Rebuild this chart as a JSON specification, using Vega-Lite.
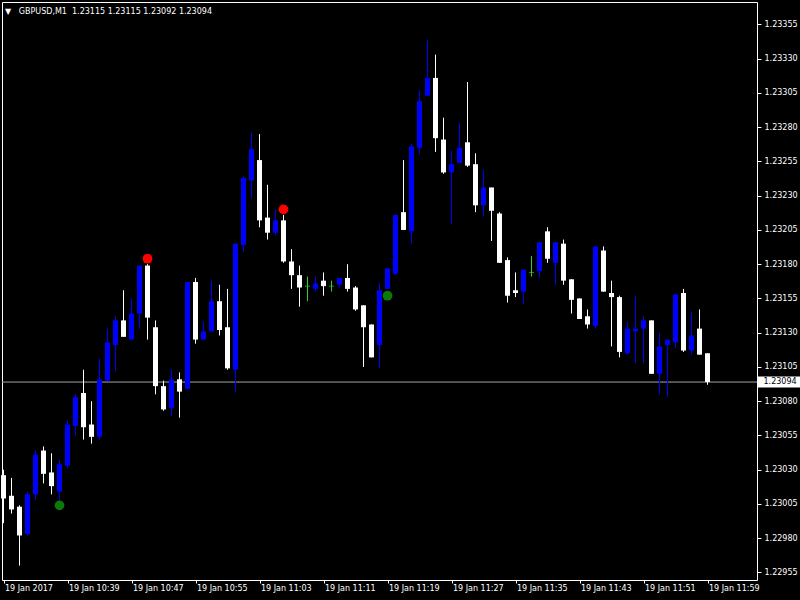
{
  "$schema": "https://vega.github.io/schema/vega-lite/v6.json",
  "width": 755,
  "height": 578,
  "autosize": {"type": "none"},
  "padding": {"left": 2, "top": 2, "right": 43, "bottom": 20},
  "background": "#000000",
  "config": {"view": {"stroke": "#ffffff", "strokeWidth": 1, "fill": "#000000"}, "font": "DejaVu Sans"},
  "title": {"text": "▼\u00a0\u00a0\u00a0GBPUSD,M1\u00a0\u00a01.23115\u00a01.23115\u00a01.23092\u00a01.23094", "anchor": "start", "frame": "group", "orient": "top", "baseline": "top", "offset": -4, "dx": 3, "dy": 10, "color": "#ffffff", "font": "DejaVu Sans", "fontSize": 8, "fontWeight": "normal"},
  "datasets": {
    "candles": [
      {"t": "2017-01-19T10:31:00", "o": 1.23026, "h": 1.23030, "l": 1.22991, "c": 1.23009},
      {"t": "2017-01-19T10:32:00", "o": 1.23011, "h": 1.23024, "l": 1.22998, "c": 1.23001},
      {"t": "2017-01-19T10:33:00", "o": 1.23003, "h": 1.23004, "l": 1.22960, "c": 1.22982},
      {"t": "2017-01-19T10:34:00", "o": 1.22983, "h": 1.23014, "l": 1.22982, "c": 1.23012},
      {"t": "2017-01-19T10:35:00", "o": 1.23012, "h": 1.23044, "l": 1.23008, "c": 1.23041},
      {"t": "2017-01-19T10:36:00", "o": 1.23044, "h": 1.23047, "l": 1.23020, "c": 1.23027},
      {"t": "2017-01-19T10:37:00", "o": 1.23028, "h": 1.23042, "l": 1.23012, "c": 1.23018},
      {"t": "2017-01-19T10:38:00", "o": 1.23014, "h": 1.23037, "l": 1.23008, "c": 1.23034},
      {"t": "2017-01-19T10:39:00", "o": 1.23033, "h": 1.23066, "l": 1.23031, "c": 1.23063},
      {"t": "2017-01-19T10:40:00", "o": 1.23062, "h": 1.23085, "l": 1.23055, "c": 1.23083},
      {"t": "2017-01-19T10:41:00", "o": 1.23086, "h": 1.23103, "l": 1.23052, "c": 1.23061},
      {"t": "2017-01-19T10:42:00", "o": 1.23063, "h": 1.23080, "l": 1.23049, "c": 1.23054},
      {"t": "2017-01-19T10:43:00", "o": 1.23054, "h": 1.23111, "l": 1.23052, "c": 1.23096},
      {"t": "2017-01-19T10:44:00", "o": 1.23095, "h": 1.23133, "l": 1.23095, "c": 1.23123},
      {"t": "2017-01-19T10:45:00", "o": 1.23121, "h": 1.23142, "l": 1.23102, "c": 1.23139},
      {"t": "2017-01-19T10:46:00", "o": 1.23139, "h": 1.23161, "l": 1.23127, "c": 1.23127},
      {"t": "2017-01-19T10:47:00", "o": 1.23125, "h": 1.23155, "l": 1.23125, "c": 1.23144},
      {"t": "2017-01-19T10:48:00", "o": 1.23144, "h": 1.23179, "l": 1.23133, "c": 1.23179},
      {"t": "2017-01-19T10:49:00", "o": 1.23179, "h": 1.23180, "l": 1.23125, "c": 1.23141},
      {"t": "2017-01-19T10:50:00", "o": 1.23134, "h": 1.23139, "l": 1.23085, "c": 1.23091},
      {"t": "2017-01-19T10:51:00", "o": 1.23091, "h": 1.23095, "l": 1.23073, "c": 1.23074},
      {"t": "2017-01-19T10:52:00", "o": 1.23075, "h": 1.23103, "l": 1.23069, "c": 1.23096},
      {"t": "2017-01-19T10:53:00", "o": 1.23096, "h": 1.23101, "l": 1.23068, "c": 1.23087},
      {"t": "2017-01-19T10:54:00", "o": 1.23089, "h": 1.23167, "l": 1.23089, "c": 1.23167},
      {"t": "2017-01-19T10:55:00", "o": 1.23167, "h": 1.23170, "l": 1.23122, "c": 1.23125},
      {"t": "2017-01-19T10:56:00", "o": 1.23125, "h": 1.23138, "l": 1.23125, "c": 1.23131},
      {"t": "2017-01-19T10:57:00", "o": 1.23131, "h": 1.23168, "l": 1.23131, "c": 1.23153},
      {"t": "2017-01-19T10:58:00", "o": 1.23153, "h": 1.23165, "l": 1.23128, "c": 1.23132},
      {"t": "2017-01-19T10:59:00", "o": 1.23134, "h": 1.23162, "l": 1.23103, "c": 1.23104},
      {"t": "2017-01-19T11:00:00", "o": 1.23103, "h": 1.23195, "l": 1.23087, "c": 1.23195},
      {"t": "2017-01-19T11:01:00", "o": 1.23194, "h": 1.23244, "l": 1.23189, "c": 1.23243},
      {"t": "2017-01-19T11:02:00", "o": 1.23241, "h": 1.23276, "l": 1.23228, "c": 1.23264},
      {"t": "2017-01-19T11:03:00", "o": 1.23256, "h": 1.23275, "l": 1.23207, "c": 1.23212},
      {"t": "2017-01-19T11:04:00", "o": 1.23214, "h": 1.23238, "l": 1.23198, "c": 1.23203},
      {"t": "2017-01-19T11:05:00", "o": 1.23203, "h": 1.23220, "l": 1.23201, "c": 1.23212},
      {"t": "2017-01-19T11:06:00", "o": 1.23212, "h": 1.23216, "l": 1.23181, "c": 1.23182},
      {"t": "2017-01-19T11:07:00", "o": 1.23182, "h": 1.23191, "l": 1.23162, "c": 1.23172},
      {"t": "2017-01-19T11:08:00", "o": 1.23172, "h": 1.23179, "l": 1.23149, "c": 1.23163},
      {"t": "2017-01-19T11:09:00", "o": 1.23164, "h": 1.23171, "l": 1.23153, "c": 1.23164},
      {"t": "2017-01-19T11:10:00", "o": 1.23162, "h": 1.23171, "l": 1.23160, "c": 1.23166},
      {"t": "2017-01-19T11:11:00", "o": 1.23168, "h": 1.23174, "l": 1.23157, "c": 1.23164},
      {"t": "2017-01-19T11:12:00", "o": 1.23164, "h": 1.23168, "l": 1.23160, "c": 1.23164},
      {"t": "2017-01-19T11:13:00", "o": 1.23165, "h": 1.23170, "l": 1.23163, "c": 1.23170},
      {"t": "2017-01-19T11:14:00", "o": 1.23170, "h": 1.23180, "l": 1.23160, "c": 1.23162},
      {"t": "2017-01-19T11:15:00", "o": 1.23163, "h": 1.23164, "l": 1.23146, "c": 1.23147},
      {"t": "2017-01-19T11:16:00", "o": 1.23150, "h": 1.23150, "l": 1.23105, "c": 1.23134},
      {"t": "2017-01-19T11:17:00", "o": 1.23136, "h": 1.23136, "l": 1.23112, "c": 1.23112},
      {"t": "2017-01-19T11:18:00", "o": 1.23121, "h": 1.23166, "l": 1.23104, "c": 1.23161},
      {"t": "2017-01-19T11:19:00", "o": 1.23162, "h": 1.23177, "l": 1.23162, "c": 1.23177},
      {"t": "2017-01-19T11:20:00", "o": 1.23173, "h": 1.23216, "l": 1.23172, "c": 1.23216},
      {"t": "2017-01-19T11:21:00", "o": 1.23218, "h": 1.23256, "l": 1.23205, "c": 1.23205},
      {"t": "2017-01-19T11:22:00", "o": 1.23204, "h": 1.23268, "l": 1.23195, "c": 1.23266},
      {"t": "2017-01-19T11:23:00", "o": 1.23265, "h": 1.23307, "l": 1.23260, "c": 1.23299},
      {"t": "2017-01-19T11:24:00", "o": 1.23303, "h": 1.23344, "l": 1.23303, "c": 1.23316},
      {"t": "2017-01-19T11:25:00", "o": 1.23316, "h": 1.23333, "l": 1.23262, "c": 1.23272},
      {"t": "2017-01-19T11:26:00", "o": 1.23271, "h": 1.23287, "l": 1.23246, "c": 1.23247},
      {"t": "2017-01-19T11:27:00", "o": 1.23247, "h": 1.23263, "l": 1.23209, "c": 1.23253},
      {"t": "2017-01-19T11:28:00", "o": 1.23254, "h": 1.23283, "l": 1.23254, "c": 1.23265},
      {"t": "2017-01-19T11:29:00", "o": 1.23269, "h": 1.23313, "l": 1.23251, "c": 1.23252},
      {"t": "2017-01-19T11:30:00", "o": 1.23253, "h": 1.23261, "l": 1.23218, "c": 1.23223},
      {"t": "2017-01-19T11:31:00", "o": 1.23223, "h": 1.23249, "l": 1.23215, "c": 1.23236},
      {"t": "2017-01-19T11:32:00", "o": 1.23236, "h": 1.23236, "l": 1.23197, "c": 1.23219},
      {"t": "2017-01-19T11:33:00", "o": 1.23217, "h": 1.23218, "l": 1.23181, "c": 1.23181},
      {"t": "2017-01-19T11:34:00", "o": 1.23183, "h": 1.23185, "l": 1.23152, "c": 1.23157},
      {"t": "2017-01-19T11:35:00", "o": 1.23161, "h": 1.23174, "l": 1.23156, "c": 1.23159},
      {"t": "2017-01-19T11:36:00", "o": 1.23160, "h": 1.23176, "l": 1.23151, "c": 1.23176},
      {"t": "2017-01-19T11:37:00", "o": 1.23174, "h": 1.23186, "l": 1.23171, "c": 1.23174},
      {"t": "2017-01-19T11:38:00", "o": 1.23175, "h": 1.23196, "l": 1.23170, "c": 1.23196},
      {"t": "2017-01-19T11:39:00", "o": 1.23204, "h": 1.23207, "l": 1.23181, "c": 1.23184},
      {"t": "2017-01-19T11:40:00", "o": 1.23181, "h": 1.23196, "l": 1.23165, "c": 1.23196},
      {"t": "2017-01-19T11:41:00", "o": 1.23195, "h": 1.23198, "l": 1.23165, "c": 1.23168},
      {"t": "2017-01-19T11:42:00", "o": 1.23169, "h": 1.23169, "l": 1.23144, "c": 1.23154},
      {"t": "2017-01-19T11:43:00", "o": 1.23155, "h": 1.23155, "l": 1.23140, "c": 1.23140},
      {"t": "2017-01-19T11:44:00", "o": 1.23142, "h": 1.23147, "l": 1.23133, "c": 1.23136},
      {"t": "2017-01-19T11:45:00", "o": 1.23135, "h": 1.23193, "l": 1.23133, "c": 1.23193},
      {"t": "2017-01-19T11:46:00", "o": 1.23190, "h": 1.23193, "l": 1.23160, "c": 1.23160},
      {"t": "2017-01-19T11:47:00", "o": 1.23159, "h": 1.23168, "l": 1.23120, "c": 1.23156},
      {"t": "2017-01-19T11:48:00", "o": 1.23156, "h": 1.23157, "l": 1.23112, "c": 1.23116},
      {"t": "2017-01-19T11:49:00", "o": 1.23115, "h": 1.23138, "l": 1.23114, "c": 1.23133},
      {"t": "2017-01-19T11:50:00", "o": 1.23131, "h": 1.23157, "l": 1.23108, "c": 1.23133},
      {"t": "2017-01-19T11:51:00", "o": 1.23133, "h": 1.23142, "l": 1.23108, "c": 1.23139},
      {"t": "2017-01-19T11:52:00", "o": 1.23139, "h": 1.23139, "l": 1.23100, "c": 1.23100},
      {"t": "2017-01-19T11:53:00", "o": 1.23100, "h": 1.23130, "l": 1.23085, "c": 1.23120},
      {"t": "2017-01-19T11:54:00", "o": 1.23121, "h": 1.23125, "l": 1.23083, "c": 1.23125},
      {"t": "2017-01-19T11:55:00", "o": 1.23123, "h": 1.23158, "l": 1.23119, "c": 1.23158},
      {"t": "2017-01-19T11:56:00", "o": 1.23159, "h": 1.23162, "l": 1.23116, "c": 1.23117},
      {"t": "2017-01-19T11:57:00", "o": 1.23117, "h": 1.23145, "l": 1.23114, "c": 1.23128},
      {"t": "2017-01-19T11:58:00", "o": 1.23133, "h": 1.23147, "l": 1.23114, "c": 1.23114},
      {"t": "2017-01-19T11:59:00", "o": 1.23115, "h": 1.23115, "l": 1.23092, "c": 1.23094}
    ],
    "signals": [
      {"t": "2017-01-19T10:38:00", "p": 1.23004, "kind": "buy"},
      {"t": "2017-01-19T10:49:00", "p": 1.23184, "kind": "sell"},
      {"t": "2017-01-19T11:06:00", "p": 1.23220, "kind": "sell"},
      {"t": "2017-01-19T11:19:00", "p": 1.23157, "kind": "buy"}
    ],
    "last": [{"p": 1.23094}]
  },
  "layer": [
    {
      "data": {"name": "last"},
      "mark": {"type": "rule", "color": "#a4a4a4", "strokeWidth": 1},
      "encoding": {
        "y": {"field": "p", "type": "quantitative", "title": null,
          "scale": {"domain": [1.229495, 1.233714], "nice": false, "zero": false, "padding": 0},
          "axis": {
            "orient": "right",
            "values": [1.22955, 1.2298, 1.23005, 1.2303, 1.23055, 1.2308, 1.23105, 1.2313, 1.23155, 1.2318, 1.23205, 1.2323, 1.23255, 1.2328, 1.23305, 1.2333, 1.23355],
            "tickCount": 40,
            "format": ".5f", "labelAlign": "left", "labelBaseline": "middle", "labelColor": "#ffffff", "labelFont": "DejaVu Sans", "labelFontSize": 8,
            "labelPadding": 3, "tickColor": "#ffffff", "tickSize": 4, "domain": false, "grid": false,
            "labelOverlap": false, "labelFlush": false, "labelBound": false
          }
        }
      }
    },
    {
      "data": {"name": "candles"},
      "mark": {"type": "rule", "strokeWidth": 1},
      "encoding": {
        "x": {"field": "t", "type": "temporal", "title": null,
          "scale": {"domain": [{"year": 2017, "month": 1, "date": 19, "hours": 10, "minutes": 30, "seconds": 48, "milliseconds": 750}, {"year": 2017, "month": 1, "date": 19, "hours": 12, "minutes": 5, "seconds": 11, "milliseconds": 250}], "nice": false, "padding": 0},
          "axis": {
            "values": [
              {"year": 2017, "month": 1, "date": 19, "hours": 10, "minutes": 31},
              {"year": 2017, "month": 1, "date": 19, "hours": 10, "minutes": 39},
              {"year": 2017, "month": 1, "date": 19, "hours": 10, "minutes": 47},
              {"year": 2017, "month": 1, "date": 19, "hours": 10, "minutes": 55},
              {"year": 2017, "month": 1, "date": 19, "hours": 11, "minutes": 3},
              {"year": 2017, "month": 1, "date": 19, "hours": 11, "minutes": 11},
              {"year": 2017, "month": 1, "date": 19, "hours": 11, "minutes": 19},
              {"year": 2017, "month": 1, "date": 19, "hours": 11, "minutes": 27},
              {"year": 2017, "month": 1, "date": 19, "hours": 11, "minutes": 35},
              {"year": 2017, "month": 1, "date": 19, "hours": 11, "minutes": 43},
              {"year": 2017, "month": 1, "date": 19, "hours": 11, "minutes": 51},
              {"year": 2017, "month": 1, "date": 19, "hours": 11, "minutes": 59}
            ],
            "tickCount": 40,
            "labelExpr": "hours(datum.value) == 10 && minutes(datum.value) == 31 ? '19 Jan 2017' : timeFormat(datum.value, '%d %b %H:%M')",
            "labelAlign": "left", "labelBaseline": "top", "labelColor": "#ffffff", "labelFont": "DejaVu Sans", "labelFontSize": 8,
            "labelPadding": 1, "labelOffset": 1, "tickColor": "#ffffff", "tickSize": 3, "domain": false, "grid": false,
            "labelOverlap": false, "labelFlush": false, "labelBound": false
          }
        },
        "y": {"field": "l", "type": "quantitative", "title": null},
        "y2": {"field": "h"},
        "color": {"condition": [{"test": "datum.c > datum.o", "value": "#0000ff"}, {"test": "datum.c == datum.o", "value": "#32cd32"}], "value": "#ffffff"}
      }
    },
    {
      "data": {"name": "candles"},
      "transform": [{"filter": "datum.o != datum.c"}],
      "mark": {"type": "bar", "width": 5},
      "encoding": {
        "x": {"field": "t", "type": "temporal", "title": null},
        "y": {"field": "o", "type": "quantitative", "title": null},
        "y2": {"field": "c"},
        "color": {"condition": {"test": "datum.c > datum.o", "value": "#0000ff"}, "value": "#ffffff"}
      }
    },
    {
      "data": {"name": "candles"},
      "transform": [{"filter": "datum.o == datum.c"}],
      "mark": {"type": "tick", "orient": "horizontal", "size": 5, "thickness": 1, "color": "#32cd32"},
      "encoding": {
        "x": {"field": "t", "type": "temporal", "title": null},
        "y": {"field": "c", "type": "quantitative", "title": null}
      }
    },
    {
      "data": {"name": "signals"},
      "mark": {"type": "circle", "size": 95, "opacity": 1},
      "encoding": {
        "x": {"field": "t", "type": "temporal", "title": null},
        "y": {"field": "p", "type": "quantitative", "title": null},
        "color": {"field": "kind", "type": "nominal", "scale": {"domain": ["buy", "sell"], "range": ["#0a7a0a", "#ff0000"]}, "legend": null}
      }
    },
    {
      "data": {"name": "last"},
      "mark": {"type": "bar", "height": 11, "color": "#ffffff"},
      "encoding": {
        "x": {"datum": {"year": 2017, "month": 1, "date": 19, "hours": 12, "minutes": 5, "seconds": 19}, "type": "temporal"},
        "x2": {"datum": {"year": 2017, "month": 1, "date": 19, "hours": 12, "minutes": 10, "seconds": 40}},
        "y": {"field": "p", "type": "quantitative", "title": null}
      }
    },
    {
      "data": {"name": "last"},
      "mark": {"type": "text", "align": "left", "baseline": "middle", "color": "#000000", "font": "DejaVu Sans", "fontSize": 8},
      "encoding": {
        "x": {"datum": {"year": 2017, "month": 1, "date": 19, "hours": 12, "minutes": 6, "seconds": 0}, "type": "temporal"},
        "y": {"field": "p", "type": "quantitative", "title": null},
        "text": {"field": "p", "type": "quantitative", "format": ".5f"}
      }
    }
  ]
}
